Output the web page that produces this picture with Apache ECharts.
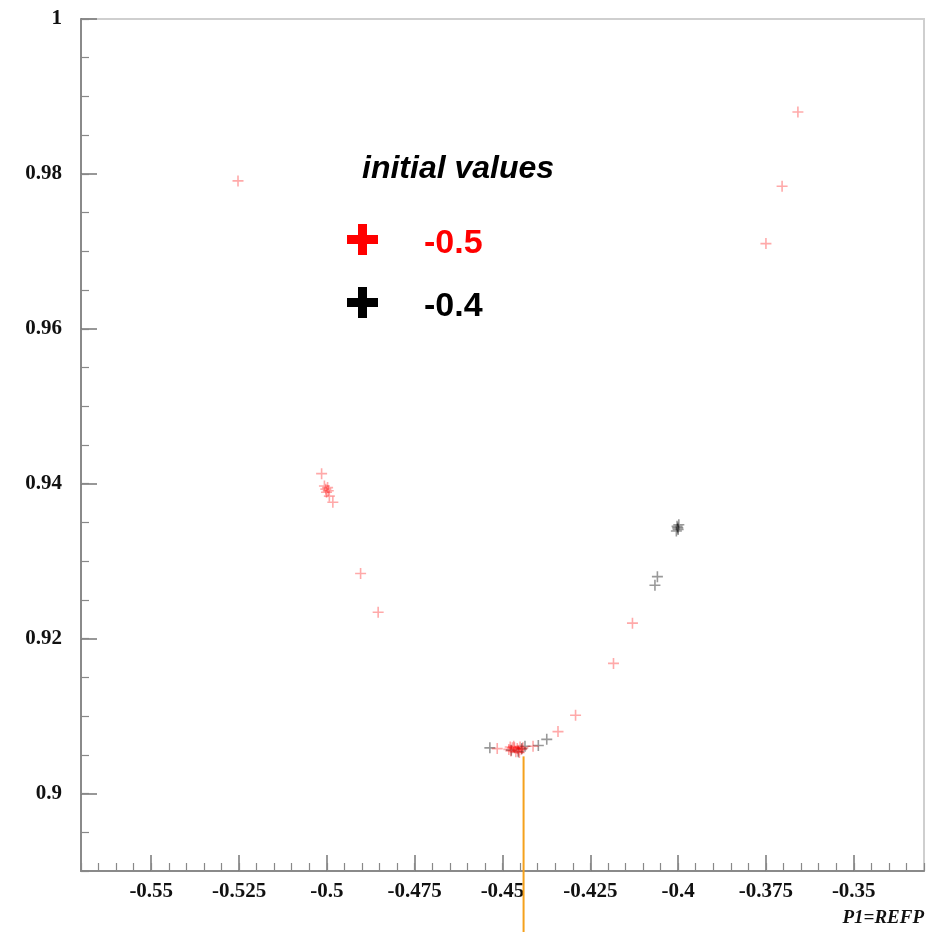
<!DOCTYPE html>
<html>
<head>
<meta charset="utf-8">
<title>P1=REFP fit results</title>
<script src="https://cdn.jsdelivr.net/npm/echarts@6/dist/echarts.min.js"></script>
<style>
  html, body { margin: 0; padding: 0; background: #ffffff; }
  #chart { width: 933px; height: 932px; }
</style>
</head>
<body>
<div id="chart"></div>
<script>
// Fit results per starting value of P1 (x: fitted P1, y: objective)
const seriesNames = ['-0.5', '-0.4'];

const pointsStart05 = [
  [-0.5253, 0.9791],
  [-0.3659, 0.9880],
  [-0.3704, 0.9784],
  [-0.3750, 0.9710],
  [-0.5015, 0.9413],
  [-0.5007, 0.9397],
  [-0.5003, 0.9393],
  [-0.4998, 0.9395],
  [-0.5001, 0.9389],
  [-0.4996, 0.9391],
  [-0.4993, 0.9384],
  [-0.4983, 0.9376],
  [-0.4904, 0.9284],
  [-0.4854, 0.9234],
  [-0.4130, 0.9220],
  [-0.4184, 0.9168],
  [-0.4292, 0.9101],
  [-0.4342, 0.9080],
  [-0.4413, 0.9061],
  [-0.4515, 0.9058],
  [-0.4482, 0.9057],
  [-0.4476, 0.9055],
  [-0.4472, 0.9059],
  [-0.4466, 0.9059],
  [-0.4462, 0.9054],
  [-0.4458, 0.9058],
  [-0.4455, 0.9056],
  [-0.4452, 0.9053],
  [-0.4450, 0.9060],
  [-0.4446, 0.9057],
  [-0.4442, 0.9059],
  [-0.4468, 0.9061],
  [-0.4478, 0.9060]
];

const pointsStart04 = [
  [-0.4536, 0.9059],
  [-0.4398, 0.9062],
  [-0.4374, 0.9070],
  [-0.4436, 0.9061],
  [-0.4475, 0.9056],
  [-0.4455, 0.9054],
  [-0.4445, 0.9058],
  [-0.4059, 0.9280],
  [-0.4066, 0.9269],
  [-0.4003, 0.9345],
  [-0.4000, 0.9341],
  [-0.3998, 0.9347],
  [-0.4005, 0.9339],
  [-0.4001, 0.9343]
];

// Best-fit marker position
const bestP1 = -0.444;
const bestMarkerY = [0.9048, 0.88];

// Axis ranges and labelled ticks
const xRange = [-0.57, -0.33];
const yRange = [0.89, 1.0];
const xTicks = [-0.55, -0.525, -0.5, -0.475, -0.45, -0.425, -0.4, -0.375, -0.35];
const yTicks = [0.9, 0.92, 0.94, 0.96, 0.98, 1.0];
const minorStep = 0.005;

const thinPlus = 'path://M4.7,0h1.6v4.7h4.7v1.6h-4.7v4.7h-1.6v-4.7h-4.7v-1.6h4.7z';
const boldPlus = 'path://M11,0h9v11h11v9h-11v11h-9v-11h-11v-9h11z';

const tickFont = {
  fontFamily: 'Liberation Serif',
  fontWeight: 'bold',
  fontSize: 21,
  color: '#111'
};
const fmt = v => String(+Number(v).toFixed(4));

const chart = echarts.init(document.getElementById('chart'), null, { renderer: 'canvas' });

chart.setOption({
  animation: false,
  backgroundColor: '#ffffff',
  title: {
    text: 'initial values',
    left: 362,
    top: 153,
    padding: 0,
    textStyle: {
      fontFamily: 'Liberation Sans',
      fontWeight: 'bold',
      fontStyle: 'italic',
      fontSize: 32,
      color: '#000'
    }
  },
  legend: {
    orient: 'vertical',
    left: 347,
    top: 224,
    padding: 0,
    itemWidth: 31,
    itemHeight: 31,
    itemGap: 26,
    selectedMode: false,
    formatter: name => '{v|' + name + '}',
    textStyle: {
      fontFamily: 'Liberation Sans',
      fontWeight: 'bold',
      fontSize: 34,
      padding: [0, 0, 0, 41],
      rich: {
        v: {
          fontFamily: 'Liberation Sans',
          fontWeight: 'bold',
          fontSize: 34,
          padding: [9, 0, 0, 0]
        }
      }
    },
    data: [
      { name: seriesNames[0], icon: boldPlus, itemStyle: { color: '#ff0000', opacity: 1 }, textStyle: { color: '#ff0000' } },
      { name: seriesNames[1], icon: boldPlus, itemStyle: { color: '#000000', opacity: 1 }, textStyle: { color: '#000000' } }
    ]
  },
  grid: {
    left: 81,
    top: 19,
    right: 9,
    bottom: 61,
    show: true,
    borderColor: '#cfcfcf',
    borderWidth: 2,
    backgroundColor: '#ffffff'
  },
  xAxis: [
    {
      type: 'value',
      min: xRange[0],
      max: xRange[1],
      position: 'bottom',
      name: 'P1=REFP',
      nameLocation: 'end',
      nameGap: 0,
      nameTextStyle: {
        fontFamily: 'Liberation Serif',
        fontWeight: 'bold',
        fontStyle: 'italic',
        fontSize: 19,
        color: '#111',
        align: 'right',
        verticalAlign: 'top',
        padding: [38, 0, 0, 0]
      },
      axisLine: { show: true, onZero: false, lineStyle: { color: '#8a8a8a', width: 2 } },
      axisTick: { show: true, inside: true, length: 16, customValues: xTicks, lineStyle: { color: '#777', width: 1.5 } },
      axisLabel: { show: true, margin: 10, customValues: xTicks, formatter: fmt, ...tickFont },
      splitLine: { show: false }
    },
    {
      type: 'value',
      min: xRange[0],
      max: xRange[1],
      interval: minorStep,
      position: 'bottom',
      axisLine: { show: false, onZero: false },
      axisTick: { show: true, inside: true, length: 8, lineStyle: { color: '#888', width: 1.2 } },
      axisLabel: { show: false },
      splitLine: { show: false }
    }
  ],
  yAxis: [
    {
      type: 'value',
      min: yRange[0],
      max: yRange[1],
      position: 'left',
      axisLine: { show: true, onZero: false, lineStyle: { color: '#8a8a8a', width: 2 } },
      axisTick: { show: true, inside: true, length: 16, customValues: yTicks, lineStyle: { color: '#777', width: 1.5 } },
      axisLabel: { show: true, margin: 19, customValues: yTicks, formatter: fmt, ...tickFont },
      splitLine: { show: false }
    },
    {
      type: 'value',
      min: yRange[0],
      max: yRange[1],
      interval: minorStep,
      position: 'left',
      axisLine: { show: false, onZero: false },
      axisTick: { show: true, inside: true, length: 8, lineStyle: { color: '#888', width: 1.2 } },
      axisLabel: { show: false },
      splitLine: { show: false }
    }
  ],
  series: [
    {
      name: seriesNames[1],
      type: 'scatter',
      xAxisIndex: 0,
      yAxisIndex: 0,
      symbol: thinPlus,
      symbolSize: 11,
      itemStyle: { color: 'rgba(0,0,0,0.5)' },
      data: pointsStart04,
      z: 3
    },
    {
      name: seriesNames[0],
      type: 'scatter',
      xAxisIndex: 0,
      yAxisIndex: 0,
      symbol: thinPlus,
      symbolSize: 11,
      itemStyle: { color: 'rgba(255,0,0,0.42)' },
      data: pointsStart05,
      z: 4
    },
    {
      name: 'best P1',
      type: 'line',
      xAxisIndex: 0,
      yAxisIndex: 0,
      clip: false,
      showSymbol: false,
      symbol: 'none',
      silent: true,
      lineStyle: { color: '#f5a11c', width: 2 },
      data: bestMarkerY.map(y => [bestP1, y]),
      z: 5
    }
  ]
});
</script>
</body>
</html>
